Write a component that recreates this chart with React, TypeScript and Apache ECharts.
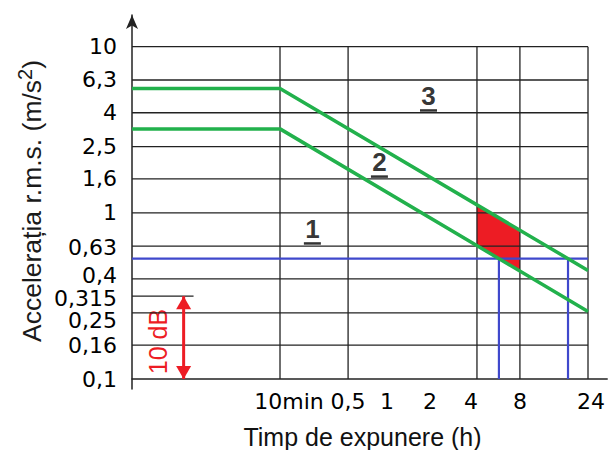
import React, { useEffect, useRef } from 'react';
import * as echarts from 'echarts';

// ---------- data ----------
// x axis ticks (exposure time, hours)
const xTickHours = [1 / 6, 0.5, 1, 2, 4, 8, 24];
const xTickLabels = ['10min', '0,5', '1', '2', '4', '8', '24'];
const xGridHours = [1 / 6, 0.5, 4, 8, 24];

// y axis ticks (r.m.s. acceleration, m/s2)
const yTickValues = [10, 6.3, 4, 2.5, 1.6, 1, 0.63, 0.4, 0.315, 0.25, 0.16, 0.1];
const yTickLabels = ['10', '6,3', '4', '2,5', '1,6', '1', '0,63', '0,4', '0,315', '0,25', '0,16', '0,1'];
const yGridValues = [10, 6.3, 4, 2.5, 1.6, 1, 0.63, 0.4, 0.25, 0.16];

// axis extents (hours / m/s2)
const xAxisMinHours = 0.0153;
const xAxisMaxHours = 32.7;
const yAxisMinValue = 0.0871;
const yAxisMaxValue = 15.5;

// green limit lines (start at the axis, knee at 10 min, end at 24 h)
const limitHours = [xAxisMinHours, 1 / 6, 24];
const upperLimit = [5.6, 5.6, 0.45];
const lowerLimit = [3.2, 3.2, 0.255];

// blue level and the red 4..8 h band
const blueLevel = 0.53;
const redHours = [4, 8];

// zone labels
const zoneLabels = ['1', '2', '3'];
const zoneHours = [0.281, 0.829, 1.83];
const zoneAccel = [0.8, 2.02, 5.05];

// 10 dB marker
const dBArrowHours = 0.0352;
const dBTickEndHours = 0.0413;
const dBFrom = 0.315;
const dBTo = 0.1;

// ---------- helpers ----------
const L2 = Math.log2;
const L10 = Math.log10;

function limitAt(vals: number[], h: number): number {
  const x = L2(h);
  for (let i = 0; i < limitHours.length - 1; i++) {
    const x0 = L2(limitHours[i]);
    const x1 = L2(limitHours[i + 1]);
    if (x >= x0 && x <= x1) {
      const t = (x - x0) / (x1 - x0);
      return L10(vals[i]) + t * (L10(vals[i + 1]) - L10(vals[i]));
    }
  }
  return L10(vals[vals.length - 1]);
}

function crossingAt(vals: number[], level: number): number {
  const y = L10(level);
  for (let i = 0; i < limitHours.length - 1; i++) {
    const y0 = L10(vals[i]);
    const y1 = L10(vals[i + 1]);
    if (y0 !== y1 && (y - y0) * (y - y1) <= 0) {
      const x0 = L2(limitHours[i]);
      const x1 = L2(limitHours[i + 1]);
      return x0 + ((y - y0) / (y1 - y0)) * (x1 - x0);
    }
  }
  return L2(limitHours[limitHours.length - 1]);
}

function nearestIndex(arr: number[], v: number): number {
  let best = 0;
  let bd = Infinity;
  arr.forEach((a, i) => {
    const d = Math.abs(a - v);
    if (d < bd) { bd = d; best = i; }
  });
  return best;
}

const GREEN = '#22b14c';
const BLUE = '#3f48cc';
const RED = '#ed1c24';
const GRID = '#222222';
const LABEL_FONT = 'DejaVu Sans';
const TITLE_FONT = 'Liberation Sans';

// label nudges (px) — style only
const xLabelNudge = [9, 0, -4, -4, -6, 0, 3];
const yLabelNudge = [0, 0, 0, 0, 0, 0, 1, -3, 2, 8, 0, 0];

export default function App() {
  const ref = useRef<HTMLDivElement>(null);

  useEffect(() => {
    document.body.style.margin = '0';
    if (!ref.current) return;
    const chart = echarts.init(ref.current, undefined, { renderer: 'svg' });

    const X_MIN = L2(xAxisMinHours);
    const X_MAX = L2(xAxisMaxHours);
    const X_END = L2(xTickHours[xTickHours.length - 1]);
    const Y_MIN = L10(yAxisMinValue);
    const Y_MAX = L10(yAxisMaxValue);
    const Y_BOTTOM = L10(yTickValues[yTickValues.length - 1]);
    const Y_TOP = L10(yTickValues[0]);

    const xCustom = xTickHours.map(L2);
    const yCustom = yTickValues.map(L10);

    const xRich: Record<string, any> = {};
    xLabelNudge.forEach((n, i) => {
      xRich['x' + i] = {
        fontFamily: LABEL_FONT, fontSize: 22, color: '#000',
        padding: n >= 0 ? [0, 0, 0, 2 * n] : [0, -2 * n, 0, 0],
      };
    });
    const yRich: Record<string, any> = {};
    yLabelNudge.forEach((n, i) => {
      yRich['y' + i] = {
        fontFamily: LABEL_FONT, fontSize: 22, color: '#000',
        padding: n >= 0 ? [2 * n, 0, 0, 0] : [0, 0, -2 * n, 0],
      };
    });

    const lineBase = {
      type: 'line' as const,
      symbol: 'none',
      silent: true,
      animation: false,
      emphasis: { disabled: true },
    };

    const gridSeries: any[] = [
      ...yGridValues.map((v) => ({
        ...lineBase, z: 2,
        data: [[X_MIN, L10(v)], [X_END, L10(v)]],
        lineStyle: { color: GRID, width: 1.3 },
      })),
      ...xGridHours.map((h) => ({
        ...lineBase, z: 2,
        data: [[L2(h), Y_BOTTOM], [L2(h), Y_TOP]],
        lineStyle: { color: GRID, width: 1.3 },
      })),
      {
        ...lineBase, z: 2,
        data: [[X_MIN, L10(dBFrom)], [L2(dBTickEndHours), L10(dBFrom)]],
        lineStyle: { color: GRID, width: 1.3 },
      },
    ];

    const xLow = crossingAt(lowerLimit, blueLevel);
    const xUp = crossingAt(upperLimit, blueLevel);

    const option: any = {
      animation: false,
      backgroundColor: '#ffffff',
      grid: { left: 132, right: 0, top: 15, bottom: 61, containLabel: false },
      xAxis: {
        type: 'value', min: X_MIN, max: X_MAX, offset: -10,
        axisLine: { show: true, onZero: false, lineStyle: { color: GRID, width: 1.5 } },
        axisTick: { show: false },
        splitLine: { show: false },
        axisLabel: {
          customValues: xCustom,
          margin: 11,
          fontFamily: LABEL_FONT, fontSize: 22, color: '#000',
          formatter: (v: number) => {
            const i = nearestIndex(xCustom, v);
            return '{x' + i + '|' + xTickLabels[i] + '}';
          },
          rich: xRich,
        },
      },
      yAxis: {
        type: 'value', min: Y_MIN, max: Y_MAX,
        axisLine: {
          show: true, onZero: false,
          symbol: ['none', 'arrow'], symbolSize: [9, 14],
          lineStyle: { color: GRID, width: 1.5 },
        },
        axisTick: { show: false },
        splitLine: { show: false },
        axisLabel: {
          customValues: yCustom,
          margin: 15,
          fontFamily: LABEL_FONT, fontSize: 22, color: '#000',
          formatter: (v: number) => {
            const i = nearestIndex(yCustom, v);
            return '{y' + i + '|' + yTickLabels[i] + '}';
          },
          rich: yRich,
        },
      },
      series: [
        {
          type: 'custom', z: 1, silent: true,
          data: [[L2(redHours[0]), 0]],
          renderItem: (_p: any, api: any) => {
            const pts: number[][] = [];
            redHours.forEach((h) => pts.push(api.coord([L2(h), limitAt(upperLimit, h)])));
            [...redHours].reverse().forEach((h) => pts.push(api.coord([L2(h), limitAt(lowerLimit, h)])));
            return { type: 'polygon', shape: { points: pts }, style: { fill: RED } };
          },
        },
        ...gridSeries,
        {
          ...lineBase, z: 3,
          data: [[X_MIN, L10(blueLevel)], [X_END, L10(blueLevel)]],
          lineStyle: { color: BLUE, width: 2.2 },
        },
        {
          ...lineBase, z: 3,
          data: [[xLow, L10(blueLevel)], [xLow, Y_BOTTOM]],
          lineStyle: { color: BLUE, width: 2.2 },
        },
        {
          ...lineBase, z: 3,
          data: [[xUp, L10(blueLevel)], [xUp, Y_BOTTOM]],
          lineStyle: { color: BLUE, width: 2.2 },
        },
        {
          ...lineBase, z: 5,
          data: limitHours.map((h, i) => [L2(h), L10(upperLimit[i])]),
          lineStyle: { color: GREEN, width: 3.5 },
        },
        {
          ...lineBase, z: 5,
          data: limitHours.map((h, i) => [L2(h), L10(lowerLimit[i])]),
          lineStyle: { color: GREEN, width: 3.5 },
        },
        {
          type: 'line', z: 4, silent: true, showSymbol: true,
          emphasis: { disabled: true },
          symbolSize: [15, 13],
          data: [
            { value: [L2(dBArrowHours), L10(dBFrom)], symbol: 'triangle', symbolRotate: 0, symbolOffset: [0, 6.5] },
            { value: [L2(dBArrowHours), L10(dBTo)], symbol: 'triangle', symbolRotate: 180, symbolOffset: [0, -6.5] },
          ],
          lineStyle: { color: RED, width: 3 },
          itemStyle: { color: RED },
        },
        {
          type: 'scatter', z: 6, silent: true,
          symbolSize: 1,
          itemStyle: { color: 'transparent' },
          data: zoneLabels.map((t, i) => ({ name: t, value: [L2(zoneHours[i]), L10(zoneAccel[i])] })),
          label: {
            show: true, position: 'inside', formatter: '{b}',
            fontFamily: TITLE_FONT, fontWeight: 'bold', fontSize: 26, color: '#000',
          },
        },
        {
          type: 'scatter', z: 6, silent: true,
          symbol: 'rect', symbolSize: [17, 2.5], symbolOffset: [0, 14.5],
          itemStyle: { color: '#000' },
          data: zoneLabels.map((_t, i) => [L2(zoneHours[i]), L10(zoneAccel[i])]),
        },
      ],
      graphic: [
        {
          type: 'text', x: 362.5, y: 437.3, silent: true,
          style: {
            text: 'Timp de expunere (h)',
            fontFamily: TITLE_FONT, fontSize: 25, fill: '#111',
            align: 'center', verticalAlign: 'middle',
          },
        },
        {
          type: 'text', x: 30, y: 201, rotation: Math.PI / 2, silent: true,
          style: {
            text: '{m|Accelerația r.m.s. (m/s}{s|2}{m|)}',
            align: 'center', verticalAlign: 'middle',
            fill: '#1a1a1a',
            rich: {
              m: { fontFamily: TITLE_FONT, fontSize: 26.5, lineHeight: 30, verticalAlign: 'bottom', fill: '#1a1a1a' },
              s: { fontFamily: TITLE_FONT, fontSize: 20, lineHeight: 20, padding: [0, 0, 17.7, 0], verticalAlign: 'top', fill: '#1a1a1a' },
            },
          },
        },
        {
          type: 'text', x: 158.3, y: 341.5, rotation: Math.PI / 2, silent: true,
          style: {
            text: '10 dB',
            fontFamily: TITLE_FONT, fontSize: 25, fill: RED,
            align: 'center', verticalAlign: 'middle',
          },
        },
      ],
    };

    chart.setOption(option);
    return () => chart.dispose();
  }, []);

  return (
    <div
      ref={ref}
      style={{ width: 608, height: 450, position: 'fixed', left: 0, top: 0, background: '#fff' }}
    />
  );
}
